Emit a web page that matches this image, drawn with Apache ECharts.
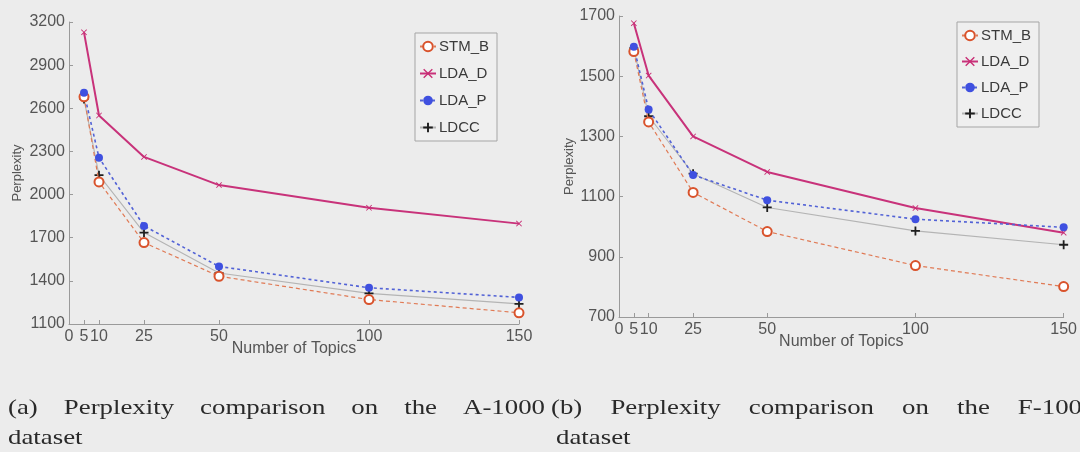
<!DOCTYPE html>
<html>
<head>
<meta charset="utf-8">
<script src="https://cdn.jsdelivr.net/npm/echarts@6/dist/echarts.min.js"></script>
<style>
html,body{margin:0;padding:0;background:#ececec;}
#chart{width:1080px;height:452px;}
</style>
</head>
<body>
<div id="chart"></div>
<script>
// ---- data ----
const seriesNames = ['STM_B', 'LDA_D', 'LDA_P', 'LDCC'];
const topics = [5, 10, 25, 50, 100, 150];
const xTickValues = [0, 5, 10, 25, 50, 100, 150];
const yTicksA = [1100, 1400, 1700, 2000, 2300, 2600, 2900, 3200];
const yTicksF = [700, 900, 1100, 1300, 1500, 1700];

// (a) A-1000 dataset
const stmB_A = [2680, 2088, 1666, 1432, 1270, 1178];
const ldaD_A = [3128, 2550, 2262, 2066, 1908, 1798];
const ldaP_A = [2708, 2256, 1782, 1500, 1352, 1285];
const ldcc_A = [2664, 2135, 1736, 1455, 1313, 1240];

// (b) F-100 dataset
const stmB_F = [1582, 1348, 1114, 984, 871, 801];
const ldaD_F = [1676, 1502, 1300, 1182, 1062, 980];
const ldaP_F = [1598, 1389, 1172, 1088, 1025, 998];
const ldcc_F = [1593, 1367, 1176, 1064, 986, 940];

const captionA = ['(a)', 'Perplexity', 'comparison', 'on', 'the', 'A-1000'];
const captionB = ['(b)', 'Perplexity', 'comparison', 'on', 'the', 'F-100'];
const captionLine2 = 'dataset';
const xAxisName = 'Number of Topics';
const yAxisName = 'Perplexity';

// ---- styling / layout ----
const SANS = '"Liberation Sans", Arial, sans-serif';
const CAP_FONT = '22px "Liberation Serif", serif';
const CAP_SX = 1.22;
const plusPath = 'path://M-1,-5 L1,-5 L1,-1 L5,-1 L5,1 L1,1 L1,5 L-1,5 L-1,1 L-5,1 L-5,-1 L-1,-1 Z';
const starPath = 'path://M-5,-4 L-4,-5 L0,-1 L4,-5 L5,-4 L1,0 L5,4 L4,5 L0,1 L-4,5 L-5,4 L-1,0 Z';

const styles = {
  'STM_B': {symbol: 'emptyCircle', symbolSize: 9, itemStyle: {color: '#d9532c', borderWidth: 1.6},
            lineStyle: {color: '#e07a55', width: 1.2, type: [4, 3]}},
  'LDA_D': {symbol: starPath, symbolSize: 6, itemStyle: {color: '#c82c74'},
            lineStyle: {color: '#c8327a', width: 2, type: 'solid'}},
  'LDA_P': {symbol: 'circle', symbolSize: 8, itemStyle: {color: '#3f50e0'},
            lineStyle: {color: '#5262d6', width: 1.6, type: [3, 3]}},
  'LDCC':  {symbol: plusPath, symbolSize: 9, itemStyle: {color: '#1e1e1e'},
            lineStyle: {color: '#b4b4b4', width: 1.1, type: 'solid'}}
};

function pairs(vals) { return topics.map((t, i) => [t, vals[i]]); }

function makeSeries(name, vals, idx) {
  const s = styles[name];
  return {
    name: name, type: 'line', xAxisIndex: idx, yAxisIndex: idx,
    data: pairs(vals), symbol: s.symbol, symbolSize: s.symbolSize,
    showSymbol: true, itemStyle: s.itemStyle, lineStyle: s.lineStyle,
    animation: false, z: name === 'LDCC' ? 1 : 2
  };
}

function xAxisCfg(idx) {
  return {
    type: 'value', gridIndex: idx, min: 0, max: 150,
    name: xAxisName, nameLocation: 'middle', nameGap: 17, nameMoveOverlap: false,
    nameTextStyle: {fontFamily: SANS, fontSize: 16, color: '#555'},
    axisLine: {show: true, lineStyle: {color: '#9a9a9a', width: 1}},
    axisTick: {show: true, inside: true, length: 4, customValues: xTickValues, lineStyle: {color: '#9a9a9a'}},
    axisLabel: {customValues: xTickValues, margin: 5, fontFamily: SANS, fontSize: 16, color: '#555', hideOverlap: false,
                formatter: v => String(v)},
    splitLine: {show: false}
  };
}

function yAxisCfg(idx, min, max, ticks, gap) {
  return {
    type: 'value', gridIndex: idx, min: min, max: max,
    name: yAxisName, nameLocation: 'middle', nameGap: gap, nameRotate: 90, nameMoveOverlap: false,
    nameTextStyle: {fontFamily: SANS, fontSize: 13, color: '#555'},
    axisLine: {show: true, lineStyle: {color: '#9a9a9a', width: 1}},
    axisTick: {show: true, inside: true, length: 4, customValues: ticks, lineStyle: {color: '#9a9a9a'}},
    axisLabel: {customValues: ticks, margin: 4, fontFamily: SANS, fontSize: 16, color: '#555',
                formatter: v => String(v)},
    splitLine: {show: false}
  };
}

function legendCfg(left, top, gap) {
  return {
    data: seriesNames, orient: 'vertical', left: left, top: top,
    itemWidth: 16, itemHeight: 12, itemGap: gap,
    padding: [6, 8, 6, 4],
    backgroundColor: '#efefef', borderColor: '#a5a5a5', borderWidth: 1, borderRadius: 0,
    textStyle: {fontFamily: SANS, fontSize: 15, color: '#3a3a3a', padding: [0, 0, 0, -2]},
    selectedMode: false
  };
}

// justified caption lines
const measureCtx = document.createElement('canvas').getContext('2d');
function capText(t, x, y) {
  return {type: 'text', x: x, y: y, scaleX: CAP_SX,
    style: {text: t, font: CAP_FONT, fill: '#2a2a2a', textVerticalAlign: 'middle'}};
}
function justify(words, x0, x1, y) {
  measureCtx.font = CAP_FONT;
  const w = words.map(t => measureCtx.measureText(t).width * CAP_SX);
  const total = w.reduce((a, b) => a + b, 0);
  const gap = (x1 - x0 - total) / (words.length - 1);
  let x = x0;
  return words.map((t, i) => {
    const el = capText(t, x, y);
    x += w[i] + gap;
    return el;
  });
}
const graphics = [].concat(
  justify(captionA, 8, 545, 408),
  justify(captionB, 551, 1082, 408),
  [capText(captionLine2, 8, 438), capText(captionLine2, 556, 438)]
);

const chart = echarts.init(document.getElementById('chart'));
chart.setOption({
  backgroundColor: '#ececec',
  animation: false,
  grid: [
    {left: 69, top: 22, width: 450, height: 302},
    {left: 619, top: 16, width: 446, height: 301}
  ],
  xAxis: [xAxisCfg(0), xAxisCfg(1)],
  yAxis: [yAxisCfg(0, 1100, 3200, yTicksA, 45), yAxisCfg(1, 700, 1700, yTicksF, 43)],
  legend: [legendCfg(415, 33, 12), legendCfg(957, 22, 11)],
  graphic: graphics,
  series: [
    makeSeries('STM_B', stmB_A, 0), makeSeries('LDA_D', ldaD_A, 0),
    makeSeries('LDA_P', ldaP_A, 0), makeSeries('LDCC', ldcc_A, 0),
    makeSeries('STM_B', stmB_F, 1), makeSeries('LDA_D', ldaD_F, 1),
    makeSeries('LDA_P', ldaP_F, 1), makeSeries('LDCC', ldcc_F, 1)
  ]
});
</script>
</body>
</html>
